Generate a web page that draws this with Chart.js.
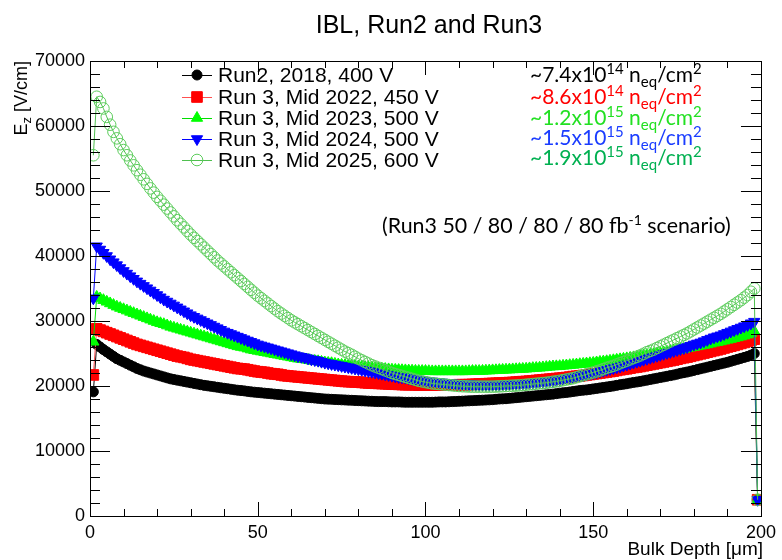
<!DOCTYPE html>
<html>
<head>
<meta charset="utf-8">
<script src="https://cdn.jsdelivr.net/npm/chart.js@4/dist/chart.umd.min.js"></script>
<style>
  html, body { margin: 0; padding: 0; background: #fff; }
  #wrap { width: 782px; height: 560px; }
</style>
</head>
<body>
<div id="wrap"><canvas id="c" width="782" height="560"></canvas></div>
<script>
// ---------------- data ----------------
const depth = [
  1, 2, 3, 4, 5, 6, 7, 8, 9, 10,
  11, 12, 13, 14, 15, 16, 17, 18, 19, 20,
  21, 22, 23, 24, 25, 26, 27, 28, 29, 30,
  31, 32, 33, 34, 35, 36, 37, 38, 39, 40,
  41, 42, 43, 44, 45, 46, 47, 48, 49, 50,
  51, 52, 53, 54, 55, 56, 57, 58, 59, 60,
  61, 62, 63, 64, 65, 66, 67, 68, 69, 70,
  71, 72, 73, 74, 75, 76, 77, 78, 79, 80,
  81, 82, 83, 84, 85, 86, 87, 88, 89, 90,
  91, 92, 93, 94, 95, 96, 97, 98, 99, 100,
  101, 102, 103, 104, 105, 106, 107, 108, 109, 110,
  111, 112, 113, 114, 115, 116, 117, 118, 119, 120,
  121, 122, 123, 124, 125, 126, 127, 128, 129, 130,
  131, 132, 133, 134, 135, 136, 137, 138, 139, 140,
  141, 142, 143, 144, 145, 146, 147, 148, 149, 150,
  151, 152, 153, 154, 155, 156, 157, 158, 159, 160,
  161, 162, 163, 164, 165, 166, 167, 168, 169, 170,
  171, 172, 173, 174, 175, 176, 177, 178, 179, 180,
  181, 182, 183, 184, 185, 186, 187, 188, 189, 190,
  191, 192, 193, 194, 195, 196, 197, 198, 199];

const run2018 = [
  19100, 26400, 26000, 25600, 25250, 24900, 24550, 24200, 23950, 23700,
  23450, 23200, 22950, 22700, 22500, 22300, 22150, 22000, 21850, 21700,
  21550, 21400, 21250, 21100, 21000, 20900, 20800, 20700, 20600, 20500,
  20400, 20300, 20200, 20100, 20030, 19950, 19880, 19800, 19720, 19650,
  19580, 19500, 19420, 19350, 19300, 19250, 19170, 19100, 19050, 19000,
  18950, 18900, 18850, 18800, 18750, 18700, 18650, 18600, 18550, 18500,
  18450, 18400, 18350, 18300, 18250, 18200, 18150, 18100, 18050, 18000,
  17980, 17950, 17920, 17900, 17870, 17850, 17820, 17800, 17770, 17750,
  17720, 17700, 17670, 17650, 17620, 17600, 17600, 17600, 17570, 17550,
  17550, 17550, 17520, 17500, 17500, 17500, 17500, 17500, 17500, 17500,
  17500, 17500, 17520, 17550, 17550, 17550, 17570, 17600, 17620, 17650,
  17670, 17700, 17720, 17750, 17770, 17800, 17820, 17850, 17870, 17900,
  17950, 18000, 18020, 18050, 18100, 18150, 18200, 18250, 18300, 18350,
  18400, 18450, 18500, 18550, 18600, 18650, 18700, 18750, 18820, 18900,
  18950, 19000, 19070, 19150, 19220, 19300, 19350, 19400, 19470, 19550,
  19620, 19700, 19770, 19850, 19920, 20000, 20100, 20200, 20270, 20350,
  20450, 20550, 20620, 20700, 20800, 20900, 21000, 21100, 21200, 21300,
  21400, 21500, 21600, 21700, 21820, 21950, 22050, 22150, 22270, 22400,
  22520, 22650, 22770, 22900, 23020, 23150, 23270, 23400, 23520, 23650,
  23800, 23950, 24100, 24250, 24400, 24550, 24750, 25000, 2500];

const mid2022 = [
  21700, 28800, 28600, 28400, 28200, 28000, 27800, 27600, 27400, 27200,
  27000, 26800, 26600, 26400, 26250, 26100, 25950, 25800, 25650, 25500,
  25350, 25200, 25050, 24900, 24750, 24600, 24500, 24400, 24250, 24100,
  24000, 23900, 23800, 23700, 23600, 23500, 23400, 23300, 23200, 23100,
  23000, 22900, 22800, 22700, 22650, 22600, 22500, 22400, 22300, 22200,
  22150, 22100, 22000, 21900, 21850, 21800, 21700, 21600, 21550, 21500,
  21450, 21400, 21350, 21300, 21250, 21200, 21150, 21100, 21050, 21000,
  20950, 20900, 20850, 20800, 20750, 20700, 20670, 20650, 20620, 20600,
  20550, 20500, 20470, 20450, 20420, 20400, 20370, 20350, 20320, 20300,
  20270, 20250, 20220, 20200, 20200, 20200, 20170, 20150, 20150, 20150,
  20150, 20150, 20150, 20150, 20150, 20150, 20150, 20150, 20170, 20200,
  20200, 20200, 20220, 20250, 20270, 20300, 20320, 20350, 20370, 20400,
  20420, 20450, 20470, 20500, 20520, 20550, 20600, 20650, 20670, 20700,
  20750, 20800, 20850, 20900, 20950, 21000, 21050, 21100, 21150, 21200,
  21250, 21300, 21370, 21450, 21500, 21550, 21620, 21700, 21770, 21850,
  21920, 22000, 22070, 22150, 22220, 22300, 22400, 22500, 22570, 22650,
  22750, 22850, 22920, 23000, 23100, 23200, 23300, 23400, 23500, 23600,
  23700, 23800, 23900, 24000, 24120, 24250, 24350, 24450, 24570, 24700,
  24820, 24950, 25070, 25200, 25320, 25450, 25570, 25700, 25850, 26000,
  26120, 26250, 26400, 26550, 26700, 26850, 27000, 27200, 2500];

const mid2023 = [
  26800, 33700, 33450, 33200, 32950, 32700, 32450, 32200, 32000, 31800,
  31600, 31400, 31200, 31000, 30800, 30600, 30400, 30200, 30000, 29800,
  29650, 29500, 29300, 29100, 28950, 28800, 28650, 28500, 28350, 28200,
  28050, 27900, 27750, 27600, 27450, 27300, 27150, 27000, 26850, 26700,
  26550, 26400, 26250, 26100, 26000, 25900, 25750, 25600, 25500, 25400,
  25300, 25200, 25100, 25000, 24900, 24800, 24700, 24600, 24500, 24400,
  24300, 24200, 24150, 24100, 24000, 23900, 23850, 23800, 23700, 23600,
  23550, 23500, 23400, 23300, 23250, 23200, 23150, 23100, 23050, 23000,
  22950, 22900, 22850, 22800, 22750, 22700, 22650, 22600, 22550, 22500,
  22470, 22450, 22420, 22400, 22370, 22350, 22320, 22300, 22300, 22300,
  22270, 22250, 22250, 22250, 22250, 22250, 22250, 22250, 22250, 22250,
  22250, 22250, 22270, 22300, 22300, 22300, 22320, 22350, 22370, 22400,
  22420, 22450, 22470, 22500, 22520, 22550, 22570, 22600, 22620, 22650,
  22700, 22750, 22770, 22800, 22850, 22900, 22950, 23000, 23020, 23050,
  23100, 23150, 23200, 23250, 23300, 23350, 23400, 23450, 23500, 23550,
  23620, 23700, 23750, 23800, 23870, 23950, 24020, 24100, 24170, 24250,
  24320, 24400, 24470, 24550, 24650, 24750, 24820, 24900, 24970, 25050,
  25150, 25250, 25350, 25450, 25520, 25600, 25700, 25800, 25900, 26000,
  26100, 26200, 26300, 26400, 26520, 26650, 26750, 26850, 26970, 27100,
  27220, 27350, 27470, 27600, 27750, 27900, 28100, 28400, 2500];

const mid2024 = [
  33500, 41500, 41000, 40500, 40000, 39500, 39050, 38600, 38150, 37700,
  37300, 36900, 36500, 36100, 35750, 35400, 35050, 34700, 34350, 34000,
  33650, 33300, 33000, 32700, 32400, 32100, 31800, 31500, 31200, 30900,
  30650, 30400, 30150, 29900, 29650, 29400, 29150, 28900, 28650, 28400,
  28200, 28000, 27800, 27600, 27400, 27200, 27000, 26800, 26600, 26400,
  26250, 26100, 25950, 25800, 25650, 25500, 25350, 25200, 25050, 24900,
  24750, 24600, 24500, 24400, 24250, 24100, 24000, 23900, 23750, 23600,
  23500, 23400, 23300, 23200, 23100, 23000, 22900, 22800, 22700, 22600,
  22500, 22400, 22300, 22200, 22100, 22000, 21900, 21800, 21700, 21600,
  21500, 21400, 21350, 21300, 21200, 21100, 21050, 21000, 20900, 20800,
  20750, 20700, 20650, 20600, 20550, 20500, 20450, 20400, 20370, 20350,
  20320, 20300, 20270, 20250, 20220, 20200, 20200, 20200, 20200, 20200,
  20200, 20200, 20220, 20250, 20270, 20300, 20320, 20350, 20370, 20400,
  20450, 20500, 20550, 20600, 20650, 20700, 20770, 20850, 20920, 21000,
  21100, 21200, 21300, 21400, 21500, 21600, 21700, 21800, 21900, 22000,
  22120, 22250, 22370, 22500, 22620, 22750, 22870, 23000, 23150, 23300,
  23450, 23600, 23750, 23900, 24050, 24200, 24350, 24500, 24650, 24800,
  24950, 25100, 25250, 25400, 25550, 25700, 25850, 26000, 26200, 26400,
  26550, 26700, 26900, 27100, 27300, 27500, 27650, 27800, 28000, 28200,
  28400, 28600, 28800, 29000, 29200, 29400, 29650, 29900, 2500];

const mid2025 = [
  55500, 64500, 63700, 62700, 61400, 60200, 59100, 58100, 57200, 56300,
  55500, 54700, 53950, 53200, 52500, 51800, 51100, 50400, 49750, 49100,
  48500, 47900, 47300, 46700, 46100, 45500, 44950, 44400, 43850, 43300,
  42800, 42300, 41800, 41300, 40800, 40300, 39800, 39300, 38850, 38400,
  37950, 37500, 37050, 36600, 36150, 35700, 35250, 34800, 34350, 33900,
  33500, 33100, 32700, 32300, 31900, 31500, 31150, 30800, 30450, 30100,
  29800, 29500, 29200, 28900, 28600, 28300, 28000, 27700, 27400, 27100,
  26800, 26500, 26200, 25900, 25600, 25300, 25050, 24800, 24500, 24200,
  23950, 23700, 23450, 23200, 23000, 22800, 22600, 22400, 22200, 22000,
  21850, 21700, 21550, 21400, 21250, 21100, 20950, 20800, 20700, 20600,
  20500, 20400, 20350, 20300, 20250, 20200, 20150, 20100, 20050, 20000,
  19970, 19950, 19920, 19900, 19900, 19900, 19900, 19900, 19900, 19900,
  19920, 19950, 19970, 20000, 20020, 20050, 20070, 20100, 20150, 20200,
  20250, 20300, 20350, 20400, 20450, 20500, 20570, 20650, 20720, 20800,
  20900, 21000, 21100, 21200, 21350, 21500, 21650, 21800, 21950, 22100,
  22250, 22400, 22600, 22800, 22950, 23100, 23300, 23500, 23700, 23900,
  24100, 24300, 24500, 24700, 24950, 25200, 25400, 25600, 25850, 26100,
  26350, 26600, 26850, 27100, 27350, 27600, 27850, 28100, 28400, 28700,
  29000, 29300, 29600, 29900, 30200, 30500, 30800, 31100, 31450, 31800,
  32150, 32500, 32850, 33200, 33600, 34000, 34500, 35000, 2500];

const seriesLabels = [
  'Run2, 2018, 400 V',
  'Run 3, Mid 2022, 450 V',
  'Run 3, Mid 2023, 500 V',
  'Run 3, Mid 2024, 500 V',
  'Run 3, Mid 2025, 600 V'
];
const fluenceText = ['~7.4x10', '~8.6x10', '~1.2x10', '~1.5x10', '~1.9x10'];
const fluenceExp = ['14', '14', '15', '15', '15'];
const fluenceColors = ['#000000', '#ff0000', '#22e022', '#1a3cff', '#00b050'];
const xTickLabels = [0, 50, 100, 150, 200];
const yTickLabels = [0, 10000, 20000, 30000, 40000, 50000, 60000, 70000];

const titleText = 'IBL, Run2 and Run3';
const xTitle = 'Bulk Depth [\u03BCm]';
const scenarioText = ['(Run3 50 / 80 / 80 / 80 fb', '-1', ' scenario)'];

// ---------------- chart ----------------
const toXY = (ys) => ys.map((v, i) => ({ x: depth[i], y: v }));
const FONT = '"Liberation Sans", Arial, Helvetica, sans-serif';
const ANNOT_FONT = 'Lato, "Open Sans", sans-serif';

const styles = [
  { color: '#000000', line: '#000000', pointStyle: 'circle', radius: 5, rotation: 0, fill: '#000000', order: 5 },
  { color: '#ff0000', line: '#ff5050', pointStyle: 'rect', radius: 7.5, rotation: 0, fill: '#ff0000', order: 4 },
  { color: '#00ff00', line: '#00dd00', pointStyle: 'triangle', radius: 6.5, rotation: 0, fill: '#00ff00', order: 3 },
  { color: '#0000ff', line: '#0000ff', pointStyle: 'triangle', radius: 6.5, rotation: 180, fill: '#0000ff', order: 2 },
  { color: '#5ccc5c', line: '#4fbf4f', pointStyle: 'circle', radius: 5.8, rotation: 0, fill: 'rgba(0,0,0,0)', order: 1 }
];
const seriesData = [run2018, mid2022, mid2023, mid2024, mid2025];

const datasets = seriesData.map((d, i) => ({
  label: seriesLabels[i],
  data: toXY(d),
  showLine: true,
  borderColor: styles[i].line,
  borderWidth: 1,
  pointStyle: styles[i].pointStyle,
  pointRadius: styles[i].radius,
  pointRotation: styles[i].rotation,
  pointBackgroundColor: styles[i].fill,
  pointBorderColor: styles[i].color,
  pointBorderWidth: 1,
  order: styles[i].order,
  tension: 0
}));

function drawSegments(ctx, x, y, segs, color) {
  ctx.fillStyle = color;
  ctx.textAlign = 'left';
  ctx.textBaseline = 'alphabetic';
  let cx = x;
  for (const s of segs) {
    ctx.font = s.size + 'px ' + (s.family || ANNOT_FONT);
    ctx.fillText(s.t, cx, y + (s.dy || 0));
    cx += ctx.measureText(s.t).width;
  }
  return cx - x;
}
function measureSegments(ctx, segs) {
  let w = 0;
  for (const s of segs) {
    ctx.font = s.size + 'px ' + (s.family || ANNOT_FONT);
    w += ctx.measureText(s.t).width;
  }
  return w;
}

function drawMarker(ctx, st, x, y) {
  ctx.fillStyle = st.fill;
  ctx.strokeStyle = st.color;
  ctx.lineWidth = 1;
  if (Chart.helpers && Chart.helpers.drawPoint) {
    Chart.helpers.drawPoint(ctx, { pointStyle: st.pointStyle, radius: st.radius, rotation: st.rotation, borderWidth: 1 }, x, y);
  } else {
    ctx.beginPath(); ctx.arc(x, y, st.radius, 0, Math.PI * 2); ctx.fill(); ctx.stroke();
  }
}

const overlay = {
  id: 'overlay',
  afterDraw(chart) {
    const ctx = chart.ctx;
    const { left, right, top, bottom } = chart.chartArea;
    const xs = chart.scales.x, ys = chart.scales.y;
    ctx.save();
    // frame
    ctx.strokeStyle = '#000';
    ctx.lineWidth = 1;
    ctx.strokeRect(Math.round(left) + 0.5, Math.round(top) + 0.5, Math.round(right - left), Math.round(bottom - top));
    // x ticks (bottom and top)
    ctx.beginPath();
    for (let v = 0; v <= 200; v += 10) {
      const px = Math.round(xs.getPixelForValue(v)) + 0.5;
      const len = (v % 50 === 0) ? 14 : 7;
      ctx.moveTo(px, bottom); ctx.lineTo(px, bottom - len);
      ctx.moveTo(px, top); ctx.lineTo(px, top + len);
    }
    // y ticks (left and right)
    for (let v = 0; v <= 70000; v += 2000) {
      const py = Math.round(ys.getPixelForValue(v)) + 0.5;
      const len = (v % 10000 === 0) ? 20 : 10;
      ctx.moveTo(left, py); ctx.lineTo(left + len, py);
      ctx.moveTo(right, py); ctx.lineTo(right - len, py);
    }
    ctx.stroke();

    // title
    ctx.fillStyle = '#000';
    ctx.font = '25px ' + FONT;
    ctx.textAlign = 'center';
    ctx.textBaseline = 'alphabetic';
    ctx.fillText(titleText, 429, 33);

    // x axis title
    ctx.font = '19px ' + FONT;
    ctx.textAlign = 'right';
    ctx.fillText(xTitle, 763, 555);

    // y axis title (rotated)
    ctx.save();
    ctx.translate(27, 61);
    ctx.rotate(-Math.PI / 2);
    const ySegs = [
      { t: 'E', size: 18, family: FONT },
      { t: 'z', size: 13, dy: 4, family: FONT },
      { t: ' [V/cm]', size: 18, family: FONT }
    ];
    const yw = measureSegments(ctx, ySegs);
    drawSegments(ctx, -yw, 0, ySegs, '#000');
    ctx.restore();

    // legend
    const rowsY = [75, 97, 118, 139, 160];
    for (let i = 0; i < styles.length; i++) {
      const st = styles[i];
      const y = rowsY[i];
      ctx.strokeStyle = st.line;
      ctx.lineWidth = 1;
      ctx.beginPath(); ctx.moveTo(182, y + 0.5); ctx.lineTo(212, y + 0.5); ctx.stroke();
      drawMarker(ctx, st, 197, y);
      ctx.fillStyle = '#000';
      ctx.font = '21px ' + FONT;
      ctx.textAlign = 'left';
      ctx.textBaseline = 'middle';
      ctx.fillText(seriesLabels[i], 218, y + 1);
    }

    // fluence annotations
    const baseY = [82, 104, 125, 145, 165];
    for (let i = 0; i < fluenceText.length; i++) {
      drawSegments(ctx, 530, baseY[i], [
        { t: fluenceText[i], size: 21 },
        { t: fluenceExp[i], size: 15, dy: -8 },
        { t: ' n', size: 21 },
        { t: 'eq', size: 15, dy: 5 },
        { t: '/cm', size: 21 },
        { t: '2', size: 15, dy: -8 }
      ], fluenceColors[i]);
    }

    // scenario text
    drawSegments(ctx, 382, 233, [
      { t: scenarioText[0], size: 21.4 },
      { t: scenarioText[1], size: 14, dy: -8 },
      { t: scenarioText[2], size: 21.4 }
    ], '#000');

    ctx.restore();
  }
};

new Chart(document.getElementById('c'), {
  type: 'scatter',
  data: { datasets },
  options: {
    responsive: false,
    animation: false,
    events: [],
    layout: { padding: { top: 61, right: 17, left: 0, bottom: 0 } },
    plugins: { legend: { display: false }, tooltip: { enabled: false }, title: { display: false } },
    scales: {
      x: {
        type: 'linear', min: 0, max: 200,
        afterFit: (s) => { s.height = 44; },
        afterBuildTicks: (s) => { s.ticks = xTickLabels.map(v => ({ value: v })); },
        grid: { display: false, drawTicks: false },
        border: { display: false },
        ticks: { padding: 6, color: '#000', font: { family: FONT, size: 18 }, maxRotation: 0, autoSkip: false, callback: (v) => String(v) }
      },
      y: {
        type: 'linear', min: 0, max: 70000,
        afterFit: (s) => { s.width = 90; },
        afterBuildTicks: (s) => { s.ticks = yTickLabels.map(v => ({ value: v })); },
        grid: { display: false, drawTicks: false },
        border: { display: false },
        ticks: { padding: 5, color: '#000', font: { family: FONT, size: 18 }, autoSkip: false, callback: (v) => String(v) }
      }
    }
  },
  plugins: [overlay]
});
</script>
</body>
</html>
